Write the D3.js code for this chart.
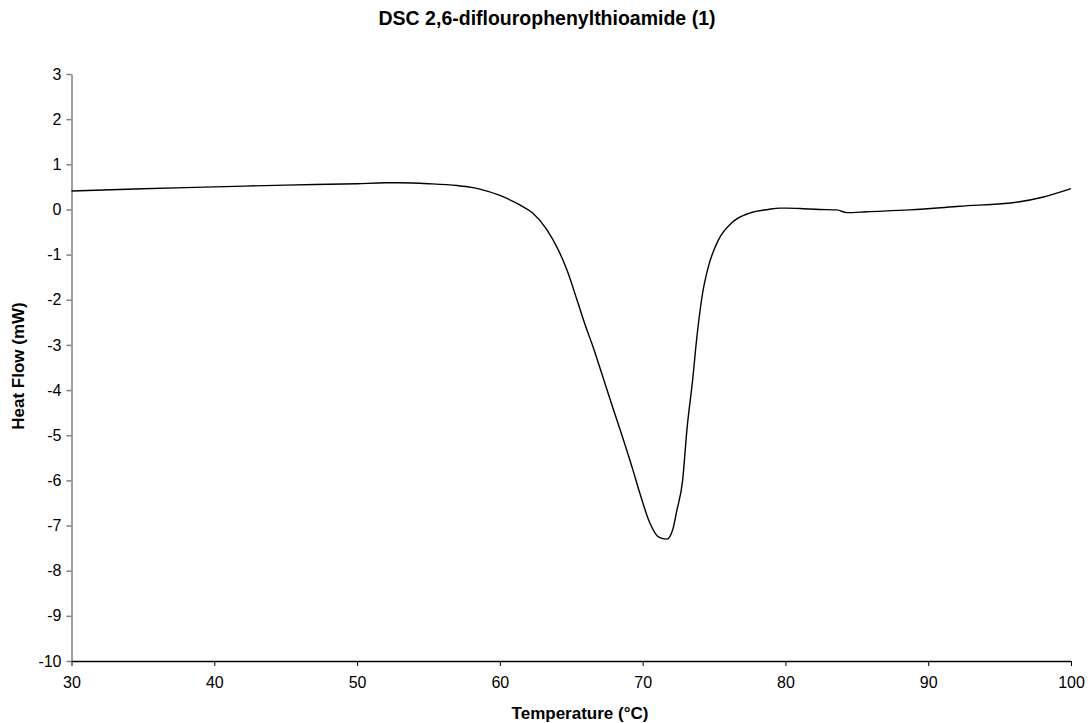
<!DOCTYPE html>
<html>
<head>
<meta charset="utf-8">
<script src="https://cdn.jsdelivr.net/npm/d3@7"></script>
<style>
  body { margin: 0; background: #fff; }
  text { font-family: "Liberation Sans", Arial, sans-serif; }
</style>
</head>
<body>
<div id="chart"></div>
<script>
// DSC curve, values
var temps = [30, 35, 40, 45, 50, 52, 53, 55, 57, 58, 58.6, 60, 61.4, 62.3, 63.3, 64.1, 64.7, 65.4, 66.0, 66.5, 67.0, 67.9, 68.55, 69.3, 69.8, 70.5, 71.1, 71.7, 72.1, 72.4, 72.8, 73.1, 73.5, 73.8, 74.2, 74.6, 75.3, 76.3, 77.5, 78.8, 79.6, 80.1, 81, 82.4, 83.6, 84.3, 85.7, 88.7, 92.2, 96.4, 98, 100];
var heatFlow = [0.41, 0.46, 0.5, 0.54, 0.57, 0.59, 0.59, 0.57, 0.53, 0.49, 0.45, 0.31, 0.1, -0.08, -0.45, -0.9, -1.34, -2.0, -2.58, -3.02, -3.5, -4.38, -5.0, -5.75, -6.28, -6.94, -7.25, -7.3, -7.1, -6.66, -6.0, -4.88, -3.78, -2.82, -1.85, -1.27, -0.68, -0.28, -0.08, 0.0, 0.03, 0.03, 0.02, 0.0, -0.01, -0.07, -0.05, -0.01, 0.07, 0.17, 0.27, 0.46];
var xTicks = [30, 40, 50, 60, 70, 80, 90, 100];
var yTicks = [3, 2, 1, 0, -1, -2, -3, -4, -5, -6, -7, -8, -9, -10];

var width = 1088,
    height = 723;

var svg = d3.select("#chart").append("svg")
    .attr("width", width)
    .attr("height", height);

var x = d3.scaleLinear().domain([30, 100]).range([71.5, 1071]);
var y = d3.scaleLinear().domain([-10, 3]).range([661, 74]);

// title
svg.append("text")
    .attr("x", 547).attr("y", 25)
    .attr("text-anchor", "middle")
    .attr("font-size", 19.5).attr("font-weight", "bold")
    .text("DSC 2,6-diflourophenylthioamide (1)");

// y axis (grey)
var yAxis = svg.append("g")
    .attr("transform", "translate(" + x(30) + ",0)")
    .call(d3.axisLeft(y).tickValues(yTicks).tickSize(5).tickSizeOuter(0)
        .tickFormat(function(d) { return String(d); }));
yAxis.select(".domain").attr("stroke", "#808080").attr("stroke-width", 1.5);
yAxis.selectAll(".tick line").attr("stroke", "#808080").attr("stroke-width", 1.5);
yAxis.selectAll(".tick text")
    .attr("font-size", 16).attr("fill", "#000").attr("x", -10)
    .style("font-family", "Liberation Sans, Arial, sans-serif");

// x axis (black)
var xAxis = svg.append("g")
    .attr("transform", "translate(0," + y(-10) + ")")
    .call(d3.axisBottom(x).tickValues(xTicks).tickSize(5).tickSizeOuter(0));
xAxis.select(".domain").attr("stroke", "#000").attr("stroke-width", 1.3);
xAxis.selectAll(".tick line").attr("stroke", "#000");
xAxis.selectAll(".tick text")
    .attr("font-size", 16).attr("fill", "#000").attr("y", 16)
    .style("font-family", "Liberation Sans, Arial, sans-serif");

// axis titles
svg.append("text")
    .attr("x", 580).attr("y", 719)
    .attr("text-anchor", "middle")
    .attr("font-size", 17).attr("font-weight", "bold")
    .text("Temperature (°C)");

svg.append("text")
    .attr("transform", "translate(24,366) rotate(-90)")
    .attr("text-anchor", "middle")
    .attr("font-size", 17).attr("font-weight", "bold")
    .text("Heat Flow (mW)");

// curve
var line = d3.line()
    .x(function(d, i) { return x(temps[i]); })
    .y(function(d) { return y(d); })
    .curve(d3.curveMonotoneX);

svg.append("path")
    .datum(heatFlow)
    .attr("fill", "none")
    .attr("stroke", "#000")
    .attr("stroke-width", 1.4)
    .attr("d", line);
</script>
</body>
</html>
